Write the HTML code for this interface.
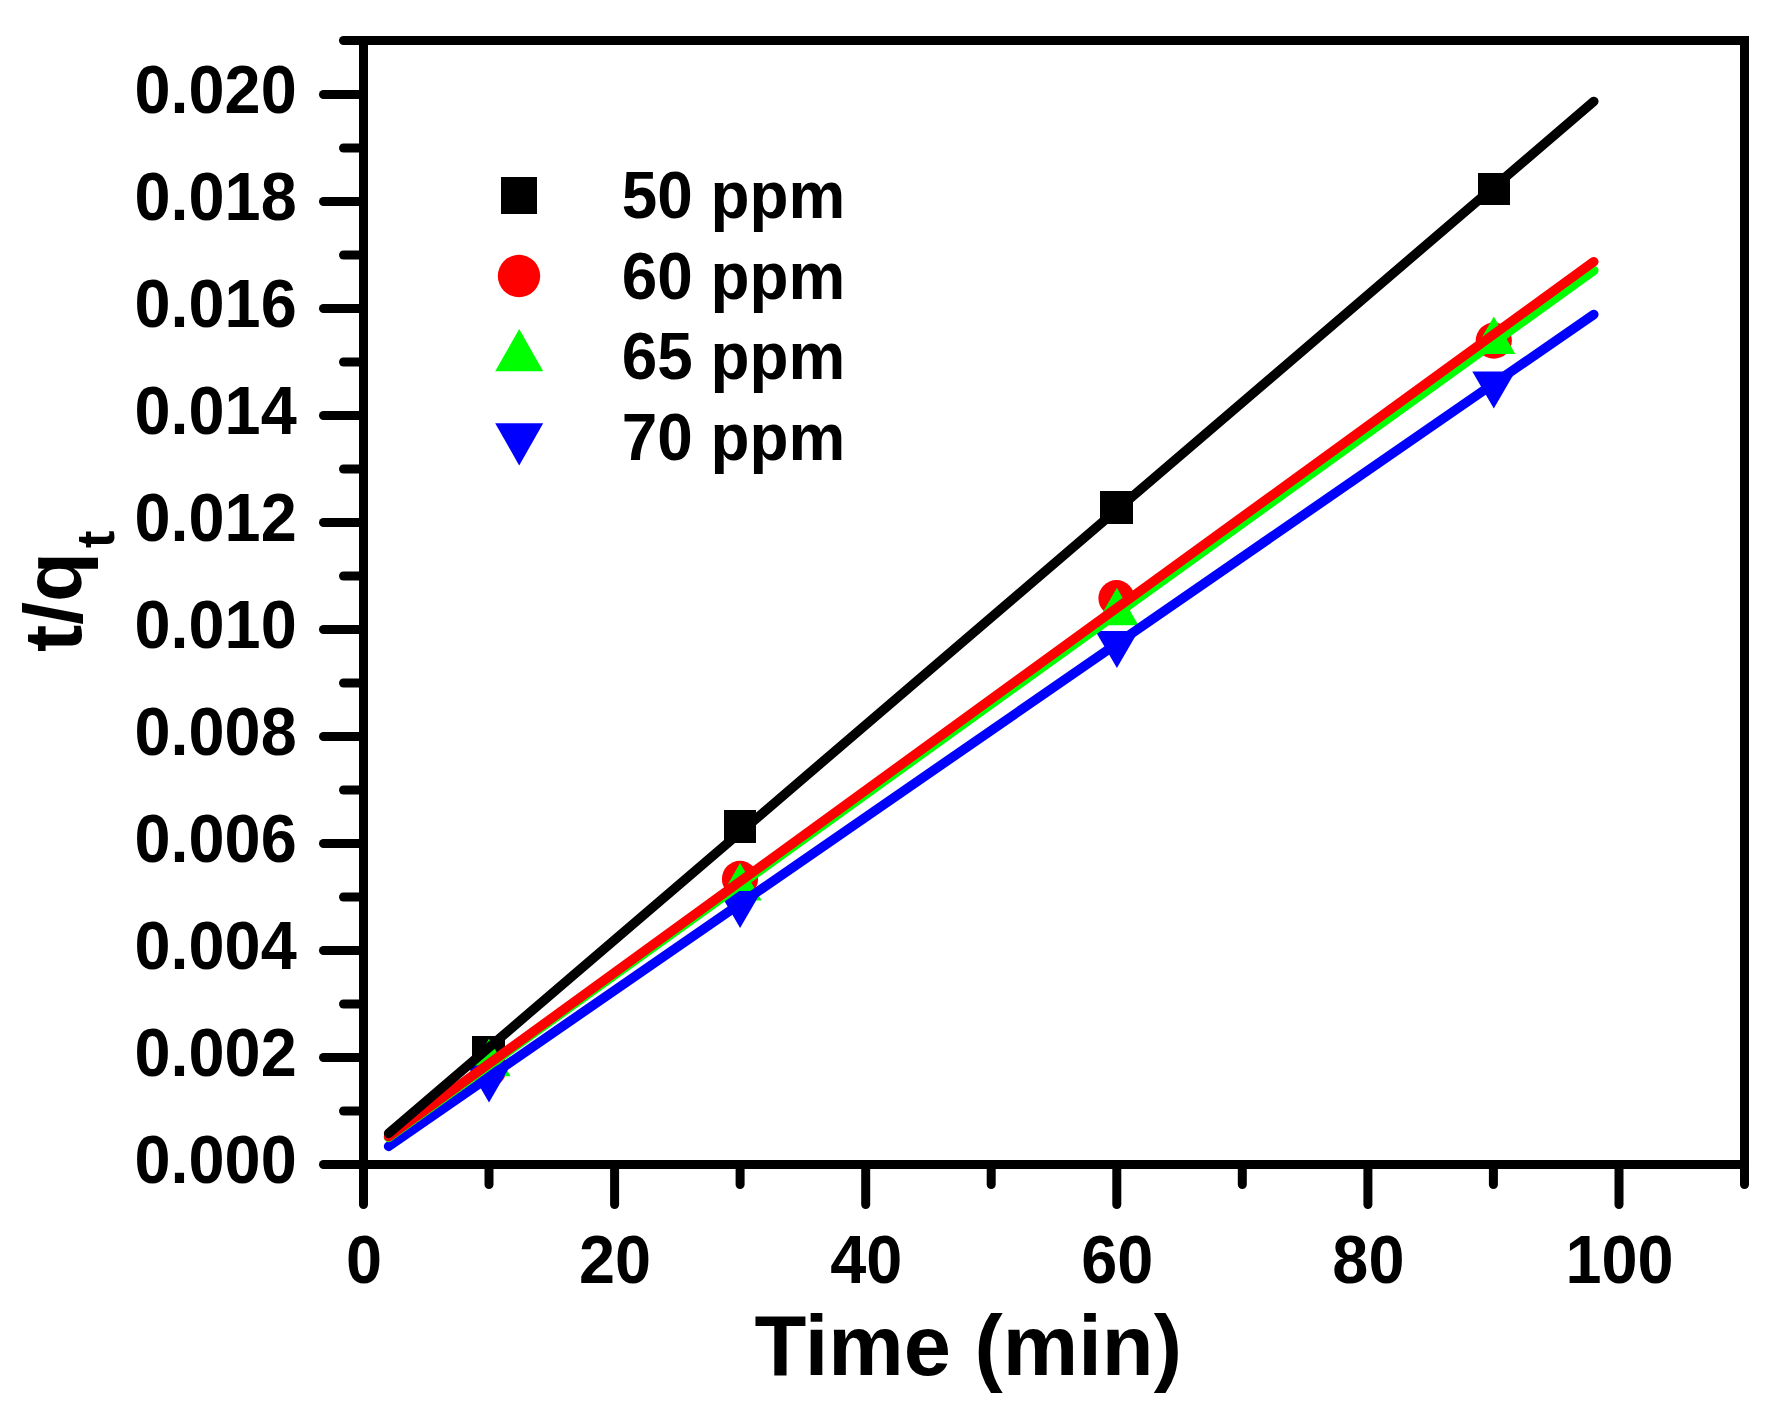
<!DOCTYPE html>
<html><head><meta charset="utf-8"><title>t/qt vs Time</title>
<style>html,body{margin:0;padding:0;background:#fff}body{width:1784px;height:1410px;overflow:hidden}svg{display:block}text{font-family:"Liberation Sans",Arial,Helvetica,sans-serif;font-weight:bold;fill:#000}</style>
</head><body>
<svg width="1784" height="1410" viewBox="0 0 1784 1410">
<rect width="1784" height="1410" fill="#fff"/>
<g shape-rendering="crispEdges">
<rect x="472.2" y="1036.2" width="32.5" height="32.5" fill="#000"/>
<rect x="723.8" y="810.2" width="32.5" height="32.5" fill="#000"/>
<rect x="1100.2" y="491.1" width="32.5" height="32.5" fill="#000"/>
<rect x="1477.8" y="172.6" width="32.5" height="32.5" fill="#000"/>
</g><g>
<circle cx="488.8" cy="1068.6" r="18.1" fill="#f00"/>
<circle cx="740.0" cy="878.9" r="18.1" fill="#f00"/>
<circle cx="1116.5" cy="598.2" r="18.1" fill="#f00"/>
<circle cx="1493.8" cy="340.6" r="18.1" fill="#f00"/>
<polygon points="489.0,1038.7 510.5,1076.2 467.5,1076.2" fill="#0f0"/>
<polygon points="740.1,863.0 761.6,900.5 718.6,900.5" fill="#0f0"/>
<polygon points="1116.9,587.7 1138.4,625.2 1095.4,625.2" fill="#0f0"/>
<polygon points="1493.8,316.6 1515.3,354.1 1472.3,354.1" fill="#0f0"/>
<polygon points="489.0,1102.5 510.5,1065.5 467.5,1065.5" fill="#00f"/>
<polygon points="740.1,927.9 761.6,890.9 718.6,890.9" fill="#00f"/>
<polygon points="1116.9,668.0 1138.4,631.0 1095.4,631.0" fill="#00f"/>
<polygon points="1493.8,408.5 1515.3,371.5 1472.3,371.5" fill="#00f"/>
</g>
<g stroke-width="9.5" stroke-linecap="round" fill="none">
<line x1="388.6" y1="1146.4" x2="1593.8" y2="314.5" stroke="#00f"/>
<line x1="388.6" y1="1137.4" x2="1593.8" y2="270.5" stroke="#0f0"/>
<line x1="388.6" y1="1136.6" x2="1593.8" y2="261.7" stroke="#f00"/>
<line x1="388.6" y1="1133.4" x2="1593.8" y2="101.4" stroke="#000"/>
</g>
<g stroke="#000" stroke-width="9" stroke-linecap="round" fill="none">
<path d="M343.5,40.5 H1744.5" />
<path d="M363.5,40.5 V1204.5" />
<path d="M323.5,1164.5 H1744.5" />
<path d="M1744.5,40.5 V1184.5" />
<path d="M323.5,1057.5 H363.5"/>
<path d="M323.5,950.5 H363.5"/>
<path d="M323.5,843.5 H363.5"/>
<path d="M323.5,736.5 H363.5"/>
<path d="M323.5,629.5 H363.5"/>
<path d="M323.5,522.5 H363.5"/>
<path d="M323.5,415.5 H363.5"/>
<path d="M323.5,308.5 H363.5"/>
<path d="M323.5,201.5 H363.5"/>
<path d="M323.5,94.5 H363.5"/>
<path d="M343.5,1111.0 H363.5"/>
<path d="M343.5,1004.0 H363.5"/>
<path d="M343.5,897.0 H363.5"/>
<path d="M343.5,790.0 H363.5"/>
<path d="M343.5,683.0 H363.5"/>
<path d="M343.5,576.0 H363.5"/>
<path d="M343.5,469.0 H363.5"/>
<path d="M343.5,362.0 H363.5"/>
<path d="M343.5,255.0 H363.5"/>
<path d="M343.5,148.0 H363.5"/>
<path d="M614.6,1164.5 V1204.5"/>
<path d="M865.7,1164.5 V1204.5"/>
<path d="M1116.8,1164.5 V1204.5"/>
<path d="M1367.9,1164.5 V1204.5"/>
<path d="M1619.0,1164.5 V1204.5"/>
<path d="M489.0,1164.5 V1184.5"/>
<path d="M740.1,1164.5 V1184.5"/>
<path d="M991.2,1164.5 V1184.5"/>
<path d="M1242.3,1164.5 V1184.5"/>
<path d="M1493.4,1164.5 V1184.5"/>
</g>
<rect x="1740" y="36" width="9" height="9" fill="#000"/>
<g font-size="68" text-anchor="end">
<text transform="translate(296.7,1182.5) scale(0.953,1)">0.000</text>
<text transform="translate(296.7,1075.5) scale(0.953,1)">0.002</text>
<text transform="translate(296.7,968.5) scale(0.953,1)">0.004</text>
<text transform="translate(296.7,861.5) scale(0.953,1)">0.006</text>
<text transform="translate(296.7,754.5) scale(0.953,1)">0.008</text>
<text transform="translate(296.7,647.5) scale(0.953,1)">0.010</text>
<text transform="translate(296.7,540.5) scale(0.953,1)">0.012</text>
<text transform="translate(296.7,433.5) scale(0.953,1)">0.014</text>
<text transform="translate(296.7,326.5) scale(0.953,1)">0.016</text>
<text transform="translate(296.7,219.5) scale(0.953,1)">0.018</text>
<text transform="translate(296.7,112.5) scale(0.953,1)">0.020</text>
</g>
<g font-size="68" text-anchor="middle">
<text transform="translate(364.0,1282.8) scale(0.953,1)">0</text>
<text transform="translate(615.1,1282.8) scale(0.953,1)">20</text>
<text transform="translate(866.2,1282.8) scale(0.953,1)">40</text>
<text transform="translate(1117.3,1282.8) scale(0.953,1)">60</text>
<text transform="translate(1368.4,1282.8) scale(0.953,1)">80</text>
<text transform="translate(1619.5,1282.8) scale(0.953,1)">100</text>
</g>
<text transform="translate(754.4,1375.2) scale(0.987,1)" font-size="86">Time (min)</text>
<text transform="translate(80.6,652.0) rotate(-90)" font-size="82">t/q<tspan font-size="53" dx="3.5" dy="33.8">t</tspan></text>
<g shape-rendering="crispEdges"><rect x="501" y="177" width="36" height="37" fill="#000"/></g>
<circle cx="519" cy="276" r="21.2" fill="#f00"/>
<polygon points="519.2,328.9 543.2,371.3 495.2,371.3" fill="#0f0"/>
<polygon points="519.2,465.4 543.2,423.2 495.2,423.2" fill="#00f"/>
<g font-size="67.5">
<text transform="translate(621.8,218.4) scale(0.946,1)">50 ppm</text>
<text transform="translate(621.8,298.9) scale(0.946,1)">60 ppm</text>
<text transform="translate(621.8,379.4) scale(0.946,1)">65 ppm</text>
<text transform="translate(621.8,459.9) scale(0.946,1)">70 ppm</text>
</g>
</svg></body></html>
